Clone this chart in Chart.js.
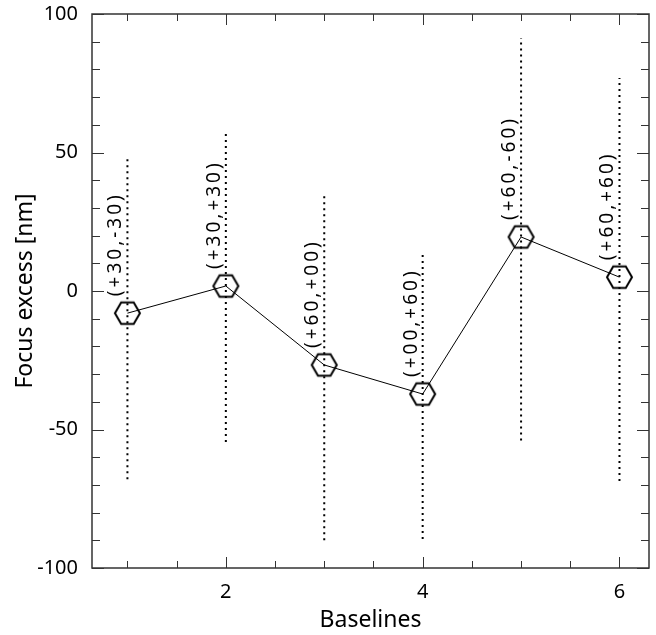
<!DOCTYPE html>
<html>
<head>
<meta charset="utf-8">
<script src="https://cdn.jsdelivr.net/npm/chart.js@4.4.1/dist/chart.umd.min.js"></script>
<style>
  html, body { margin: 0; padding: 0; background: #fff; }
  #wrap { width: 656px; height: 635px; }
</style>
</head>
<body>
<div id="wrap"><canvas id="myChart" width="656" height="635"></canvas></div>
<script>
// values
var baselines = [1, 2, 3, 4, 5, 6];
var focusExcess = [-8, 1.8, -26.7, -37.2, 19.5, 5];
var errLow = [-68, -54.5, -90, -89.5, -54, -68.6];
var errHigh = [49, 57.8, 34.7, 13.4, 91.3, 76.9];
var pointLabels = ['(+30,-30)', '(+30,+30)', '(+60,+00)', '(+00,+60)', '(+60,-60)', '(+60,+60)'];
var xTicks = [2, 4, 6];
var yTicks = [-100, -50, 0, 50, 100];

// hexagon marker
function makeHex(r) {
  var c = document.createElement('canvas');
  var s = Math.ceil(r * 2 + 4);
  c.width = s; c.height = s;
  var g = c.getContext('2d');
  g.strokeStyle = '#000';
  g.lineWidth = 2;
  g.beginPath();
  for (var i = 0; i < 6; i++) {
    var a = Math.PI / 3 * i;
    var px = s / 2 + r * Math.cos(a), py = s / 2 + r * Math.sin(a);
    if (i == 0) g.moveTo(px, py); else g.lineTo(px, py);
  }
  g.closePath();
  g.stroke();
  return c;
}
var hex = makeHex(12.5);

var datasets = [];
baselines.forEach(function(b, i) {
  datasets.push({
    data: [{x: b, y: errLow[i]}, {x: b, y: errHigh[i]}],
    showLine: true,
    borderColor: '#000',
    borderWidth: 2,
    borderDash: [2, 4],
    pointRadius: 0
  });
});
datasets.push({
  data: baselines.map(function(b, i) { return {x: b, y: focusExcess[i]}; }),
  showLine: true,
  borderColor: '#000',
  borderWidth: 1,
  pointStyle: hex,
  pointRadius: 13
});

// frame and inward ticks on all four sides
var framePlugin = {
  id: 'frame',
  afterDraw: function(chart) {
    var ctx = chart.ctx, a = chart.chartArea;
    var xs = chart.scales.x, ys = chart.scales.y;
    ctx.save();
    ctx.strokeStyle = '#333';
    ctx.lineWidth = 1.5;
    ctx.strokeRect(a.left, a.top, a.right - a.left, a.bottom - a.top);
    ctx.lineWidth = 1;
    ctx.beginPath();
    for (var v = 0.5; v <= 6.5; v += 0.5) {
      if (v < xs.min || v > xs.max) continue;
      var px = Math.round(xs.getPixelForValue(v)) + 0.5;
      var len = (v % 2 == 0) ? 11 : 7;
      ctx.moveTo(px, a.bottom); ctx.lineTo(px, a.bottom - len);
      ctx.moveTo(px, a.top); ctx.lineTo(px, a.top + len);
    }
    for (var w = -100; w <= 100; w += 10) {
      var py = Math.round(ys.getPixelForValue(w)) + 0.5;
      var l2 = (w % 50 == 0) ? 12 : 8;
      ctx.moveTo(a.left, py); ctx.lineTo(a.left + l2, py);
      ctx.moveTo(a.right, py); ctx.lineTo(a.right - l2, py);
    }
    ctx.stroke();
    ctx.restore();
  }
};

// rotated labels above each point
var labelPlugin = {
  id: 'ptLabels',
  afterDatasetsDraw: function(chart) {
    var ctx = chart.ctx;
    var meta = chart.getDatasetMeta(chart.data.datasets.length - 1);
    ctx.save();
    ctx.fillStyle = '#000';
    ctx.font = '19px "Noto Sans"';
    if ('letterSpacing' in ctx) ctx.letterSpacing = '3px';
    ctx.textAlign = 'left';
    ctx.textBaseline = 'alphabetic';
    meta.data.forEach(function(pt, i) {
      ctx.save();
      ctx.translate(pt.x - 6, pt.y - 17);
      ctx.rotate(-Math.PI / 2);
      ctx.fillText(pointLabels[i], 0, 0);
      ctx.restore();
    });
    ctx.restore();
  }
};

var ctx = document.getElementById('myChart').getContext('2d');
var chart = new Chart(ctx, {
  type: 'scatter',
  data: { datasets: datasets },
  plugins: [framePlugin, labelPlugin],
  options: {
    responsive: false,
    animation: false,
    layout: { autoPadding: false, padding: { top: 14, right: 7, left: 0, bottom: 0 } },
    plugins: { legend: { display: false }, tooltip: { enabled: false } },
    scales: {
      x: {
        type: 'linear',
        min: 0.64,
        max: 6.3,
        afterBuildTicks: function(s) { s.ticks = xTicks.map(function(v) { return {value: v}; }); },
        afterFit: function(s) { s.height = 67; s.paddingLeft = 0; s.paddingRight = 0; },
        grid: { display: false },
        border: { display: false },
        ticks: { color: '#000', font: { family: 'Noto Sans', size: 20 }, padding: 4, maxRotation: 0 },
        title: { display: true, text: 'Baselines', color: '#000', font: { family: 'Noto Sans', size: 23 }, padding: { top: 0, bottom: 1 } }
      },
      y: {
        type: 'linear',
        min: -100,
        max: 100,
        afterBuildTicks: function(s) { s.ticks = yTicks.map(function(v) { return {value: v}; }); },
        afterFit: function(s) { s.width = 92; s.paddingTop = 0; s.paddingBottom = 0; },
        grid: { display: false },
        border: { display: false },
        ticks: { color: '#000', font: { family: 'Noto Sans', size: 20 }, padding: 6 },
        title: { display: true, text: 'Focus excess [nm]', color: '#000', font: { family: 'Noto Sans', size: 23 }, padding: { top: 12, bottom: 0 } }
      }
    }
  }
});
</script>
</body>
</html>
